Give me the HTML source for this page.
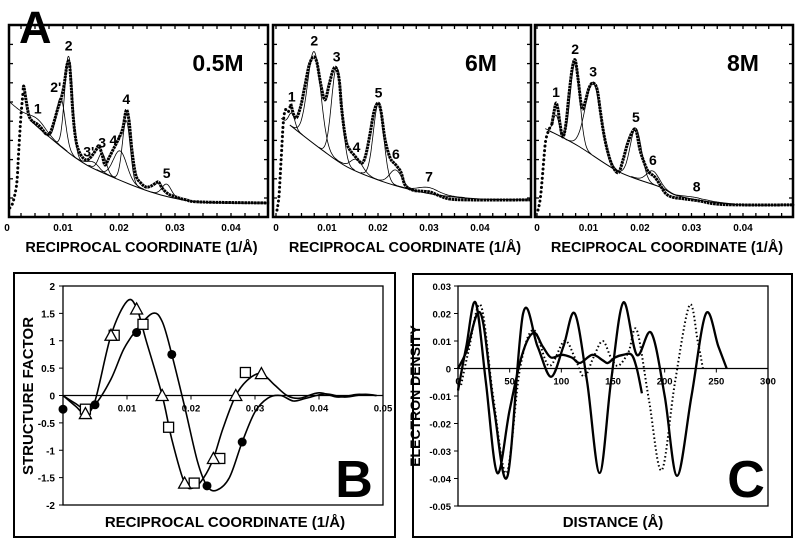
<!DOCTYPE html>
<html><head><meta charset="utf-8">
<style>
html,body{margin:0;padding:0;background:#fff;}
svg{display:block;font-family:"Liberation Sans",Arial,sans-serif;font-weight:bold;}
</style></head>
<body>
<svg id="fig" width="800" height="540" viewBox="0 0 800 540" xmlns="http://www.w3.org/2000/svg">
<rect width="800" height="540" fill="#fff"/>
</svg>
<script>
// ---------- Panel A data (q in units of 0.001 1/Å, intensity in arbitrary 0-100) ----------
const a1Q=[0.5,0.9,1.4,1.8,2.1,2.5,2.9,3.0,3.4,3.9,4.5,5.4,6.1,7.0,7.7,8.4,9.1,9.6,10.2,10.7,11.1,11.4,11.8,12.3,12.9,13.6,14.3,15.0,15.9,16.4,17.0,17.5,18.2,19.1,20.0,20.7,21.3,21.8,22.3,23.0,23.9,24.8,25.7,26.6,27.1,27.7,28.8,30.2,32,34.6,46.8];
const a1I=[4.7,6.3,11.5,19.3,34.9,53,66,68,61,53,50,48.4,46.4,43.2,43.8,49.5,56.8,61,68.8,79,80.7,71.4,53,40,33.9,30.7,29.7,31.3,34.9,37,32.3,27.1,30.7,36,41.1,46.4,55.7,50,34.9,21.9,17.7,15.6,16.1,17.7,18.2,15.1,12,10.4,8.9,7.8,7.3];
const a1BgQ=[4.3,7,12.3,16.8,25.7,32.8,40,46.8];
const a1BgI=[50,43,30.7,23.4,13,8.3,7.3,7.3];
const a1PeakLabels=["1","2'","2","3'","3","4'","4","5"];
const a1PeakC=[5.5,9.6,11.0,15.5,17.0,20.2,21.3,28.5];
const a1PeakH=[4,25,50,3,10,15,32,6];
const a1PeakW=[1.5,0.8,0.7,1.0,0.7,1.2,0.7,0.8];

const a2Q=[0.2,0.6,1.0,1.4,1.8,2.4,2.9,3.5,4.1,4.9,5.7,6.5,7.3,8.0,8.8,9.6,10.4,11.2,11.8,12.4,12.9,13.7,14.5,15.3,16.1,16.9,17.6,18.4,19.2,20.0,20.6,21.4,22.4,23.5,24.5,25.3,26.7,28.2,30.2,32.2,34.1,38,50];
const a2I=[3.6,11.5,29.7,47.9,55.7,54.7,59,53,52,58.3,68.8,79,83.3,80.7,68.8,61,68.8,76.6,77.6,71.4,55.7,40.1,34.9,32.3,29.7,28.1,32.3,42.7,54.7,59.4,54.7,40.1,30.7,27.1,23.4,16.7,14.1,13.5,13,10.9,9.4,8.9,8.9];
const a2BgQ=[2.7,9,14,20,26,32,40,50];
const a2BgI=[47.9,35,26,19.3,14.5,11.3,9.4,8.9];
const a2PeakLabels=["1","2","3","4","5","6","7"];
const a2PeakC=[3.1,7.5,11.9,15.8,20.1,23.5,30];
const a2PeakH=[7,48,48,6,40,8,3];
const a2PeakW=[0.6,1.3,1.0,1.2,1.0,1.2,2];

const a3Q=[0.2,0.6,1.0,1.4,1.7,2.3,2.9,3.3,3.7,4.1,4.5,5.0,5.6,6.2,6.8,7.4,8.0,8.7,9.3,10.1,10.9,11.7,12.4,13.2,14.2,15.1,15.9,16.7,17.5,18.4,19.2,20.0,21.0,21.7,22.9,23.9,24.9,26.2,28.7,31.7,34.6,39.4,49.7];
const a3I=[3.6,8.9,19.3,32.3,40.1,45.3,48.4,54.7,59.4,55.7,47.9,41.7,47.9,63.5,76.6,81.8,71.4,56.8,59.4,67.2,69.8,66.1,53.1,40.1,29.7,24.5,23.4,29.7,37.5,43.8,45.3,34.9,27.1,23.4,20.8,16.7,12.5,10.4,9.4,8.3,6.8,6.3,6.3];
const a3BgQ=[2.1,8,16,23.9,26.8,32,40,50];
const a3BgI=[45.3,37,23.4,15.6,11.5,8.5,6.3,6.3];
const a3PeakLabels=["1","2","3","5","6","8"];
const a3PeakC=[3.7,7.4,10.9,19.2,22.5,31];
const a3PeakH=[10,43,38,26,7,1];
const a3PeakW=[0.6,0.9,1.5,1.1,1.2,2];

const aTickLabels=["0","0.01","0.02","0.03","0.04"];
const aTickVals=[0,10,20,30,40];
const aConc=["0.5M","6M","8M"];

// ---------- Panel B data ----------
const bTriX=[0,0.002,0.0035,0.005,0.0075,0.010,0.0115,0.013,0.0155,0.017,0.019,0.0205,0.022,0.0235,0.025,0.027,0.029,0.031,0.033,0.035,0.037,0.040,0.043,0.046,0.049];
const bTriY=[0,-0.2,-0.33,-0.1,1.1,1.72,1.6,1.0,0,-0.8,-1.6,-1.68,-1.5,-1.15,-0.6,0,0.3,0.4,0.2,0,-0.05,0.05,-0.03,0.02,0];
const bCirX=[0,0.002,0.0035,0.005,0.0075,0.0095,0.0115,0.014,0.0155,0.017,0.019,0.021,0.0225,0.024,0.026,0.028,0.030,0.032,0.034,0.036,0.038,0.041,0.044,0.047,0.049];
const bCirY=[0,-0.15,-0.25,-0.17,0.3,0.85,1.2,1.5,1.35,0.75,-0.2,-1.2,-1.65,-1.73,-1.5,-0.85,-0.3,-0.05,0,-0.1,-0.05,0.03,-0.03,0.02,0];
const bTriMX=[0.0035,0.0075,0.0115,0.0155,0.019,0.0235,0.027,0.031];
const bTriMY=[-0.33,1.1,1.58,0,-1.6,-1.15,0,0.4];
const bSqMX=[0.0035,0.008,0.0125,0.0165,0.0205,0.0245,0.0285];
const bSqMY=[-0.25,1.1,1.3,-0.58,-1.6,-1.15,0.42];
const bCirMX=[0,0.005,0.0115,0.017,0.0225,0.028];
const bCirMY=[-0.25,-0.17,1.15,0.75,-1.65,-0.85];
const bYTicks=[2,1.5,1,0.5,0,-0.5,-1,-1.5,-2];
const bXTicks=[0.01,0.02,0.03,0.04,0.05];

// ---------- Panel C data ----------
const cLongX=[0,8,22,35,48,63,77,90,102,113,125,137,148,160,173,187,200,212,226,240,252,260];
const cLongY=[0,0.006,0.02,-0.015,-0.039,0.02,0.008,-0.003,0.008,0.02,-0.005,-0.038,-0.005,0.024,0.005,0.013,-0.01,-0.039,-0.01,0.02,0.008,0];
const cShortX=[0,8,17,27,38,50,62,73,82,90,100,110,118,130,140,145,152,160,168,173,178];
const cShortY=[-0.008,0.008,0.024,-0.005,-0.038,-0.015,0.005,0.013,0.008,0.004,0.005,0.004,0.002,0.005,0.003,0.002,0.004,0.005,0.005,0.0,-0.009];
const cDotX=[3,10,22,34,47,60,73,88,103,113,122,131,140,148,155,165,173,185,197,210,224,232,237];
const cDotY=[-0.006,0.006,0.023,-0.01,-0.038,0.0,0.014,0.001,0.01,0.004,-0.003,0.004,0.01,0.004,0.001,0.006,0.014,-0.012,-0.037,-0.005,0.023,0.01,0];
const cYTicks=[0.03,0.02,0.01,0,-0.01,-0.02,-0.03,-0.04,-0.05];
const cXTicks=[0,50,100,150,200,250,300];

// ---------- helpers ----------
const svg=document.getElementById('fig');
const NS='http://www.w3.org/2000/svg';
function mk(tag,attrs,parent){const e=document.createElementNS(NS,tag);for(const k in attrs)e.setAttribute(k,attrs[k]);(parent||svg).appendChild(e);return e;}
function txt(s,attrs,parent){const e=mk('text',attrs,parent);e.textContent=s;return e;}
function smooth(pts){
  let d='M'+pts[0][0].toFixed(1)+','+pts[0][1].toFixed(1);
  for(let i=0;i<pts.length-1;i++){
    const p0=pts[i-1]||pts[i],p1=pts[i],p2=pts[i+1],p3=pts[i+2]||p2;
    const c1=[p1[0]+(p2[0]-p0[0])/6,p1[1]+(p2[1]-p0[1])/6];
    const c2=[p2[0]-(p3[0]-p1[0])/6,p2[1]-(p3[1]-p1[1])/6];
    d+='C'+c1[0].toFixed(1)+','+c1[1].toFixed(1)+' '+c2[0].toFixed(1)+','+c2[1].toFixed(1)+' '+p2[0].toFixed(1)+','+p2[1].toFixed(1);
  }
  return d;
}
function interp(xs,ys,x){
  if(x<=xs[0])return ys[0]+(ys[1]-ys[0])*(x-xs[0])/(xs[1]-xs[0]);
  for(let i=0;i<xs.length-1;i++){if(x<=xs[i+1]){return ys[i]+(ys[i+1]-ys[i])*(x-xs[i])/(xs[i+1]-xs[i]);}}
  return ys[ys.length-1];
}

// ---------- Panel A ----------
const panels=[
 {left:9,right:268,origin:7,scale:5.6,Q:a1Q,I:a1I,bq:a1BgQ,bi:a1BgI,pl:a1PeakLabels,pc:a1PeakC,ph:a1PeakH,pw:a1PeakW},
 {left:273,right:531,origin:276,scale:5.1,Q:a2Q,I:a2I,bq:a2BgQ,bi:a2BgI,pl:a2PeakLabels,pc:a2PeakC,ph:a2PeakH,pw:a2PeakW},
 {left:535,right:793,origin:537,scale:5.15,Q:a3Q,I:a3I,bq:a3BgQ,bi:a3BgI,pl:a3PeakLabels,pc:a3PeakC,ph:a3PeakH,pw:a3PeakW}
];
const aTop=25,aBot=217;
function yA(v){return aBot-v*1.92;}
panels.forEach((p,idx)=>{
  const g=mk('g',{});
  
  
  const xA=v=>p.origin+v*p.scale;
  const fr=mk('rect',{x:p.left,y:aTop,width:p.right-p.left,height:aBot-aTop,fill:'none',stroke:'#000','stroke-width':2.5},g);
  
  
  for(let v=0;xA(v)<p.right-2;v+=2.5){const x=xA(v);if(x<p.left+2)continue;
    mk('line',{x1:x,y1:aTop,x2:x,y2:aTop+4,stroke:'#000','stroke-width':1.3},g);
    mk('line',{x1:x,y1:aBot,x2:x,y2:aBot-4,stroke:'#000','stroke-width':1.3},g);}
  for(let y=aBot-19;y>aTop+4;y-=19.2){
    mk('line',{x1:p.left,y1:y,x2:p.left+4,y2:y,stroke:'#000','stroke-width':1.3},g);
    mk('line',{x1:p.right,y1:y,x2:p.right-4,y2:y,stroke:'#000','stroke-width':1.3},g);}
  aTickVals.forEach((v,i)=>{const t=txt(aTickLabels[i],{x:xA(v),y:231,'font-size':10,'text-anchor':'middle'},g);
    
    });
  const at=txt('RECIPROCAL COORDINATE (1/Å)',{x:(p.left+p.right)/2+3,y:252,'font-size':14.5,'text-anchor':'middle'},g);
  
  
  const ct=txt(aConc[idx],{x:p.right-50,y:71,'font-size':23,'text-anchor':'middle'},g);
  
  
  const bgPts=p.bq.map((q,i)=>[xA(q),yA(p.bi[i])]);
  const bg=mk('path',{d:smooth(bgPts),fill:'none',stroke:'#000','stroke-width':1},g);
  
  
  p.pc.forEach((c,i)=>{
    const pts=[];
    for(let k=-3.5;k<=3.5;k+=0.25){const q=c+k*p.pw[i];pts.push([xA(q),yA(interp(p.bq,p.bi,q)+p.ph[i]*Math.exp(-k*k/2))]);}
    const pk=mk('path',{d:smooth(pts),fill:'none',stroke:'#000','stroke-width':0.8},g);
    
    
    const primed=p.pl[i].length>1;
    const top=primed?interp(p.bq,p.bi,c)+p.ph[i]:Math.max(interp(p.Q,p.I,c),interp(p.bq,p.bi,c)+p.ph[i]);
    const lb=txt(p.pl[i],{x:xA(c)+(primed?-5:0),y:yA(top)-6,'font-size':14,'text-anchor':'middle'},g);
    
    
  });
  const pts=p.Q.map((q,i)=>[xA(q),yA(p.I[i])]);
  const riseN=p.Q.findIndex(q=>q>=2.9);
  const rise=mk('path',{d:smooth(pts.slice(0,riseN+1)),fill:'none',stroke:'#000','stroke-width':3,'stroke-linecap':'round','stroke-dasharray':'0.1 4.5'},g);
  
  
  const main=mk('path',{d:smooth(pts.slice(riseN)),fill:'none',stroke:'#000','stroke-width':3,'stroke-dasharray':'2.6 0.6'},g);
  
  
});
const bigA=txt('A',{x:19,y:43,'font-size':45,'font-weight':'900'});



// ---------- Panel B ----------
const xB=v=>63+v*6400, yB=v=>395.5-v*54.75;
const gB=mk('g',{});


const bo=mk('rect',{x:14,y:273,width:381,height:264,fill:'none',stroke:'#000','stroke-width':2},gB);


const bp=mk('rect',{x:63,y:286,width:320,height:219,fill:'none',stroke:'#000','stroke-width':1.3},gB);


mk('line',{x1:63,y1:yB(0),x2:383,y2:yB(0),stroke:'#000','stroke-width':1.3},gB);
bYTicks.forEach(v=>{const t=txt(String(v),{x:55,y:yB(v)+4,'font-size':10,'text-anchor':'end'},gB);
  
  
  mk('line',{x1:59,y1:yB(v),x2:63,y2:yB(v),stroke:'#000','stroke-width':1},gB);});
bXTicks.forEach(v=>{const t=txt(String(v),{x:xB(v),y:yB(0)+16,'font-size':9.5,'text-anchor':'middle'},gB);
  
  
  mk('line',{x1:xB(v),y1:yB(0),x2:xB(v),y2:yB(0)+4,stroke:'#000','stroke-width':1},gB);});
const bt1=mk('path',{d:smooth(bTriX.map((x,i)=>[xB(x),yB(bTriY[i])])),fill:'none',stroke:'#000','stroke-width':1.6},gB);


const bt2=mk('path',{d:smooth(bCirX.map((x,i)=>[xB(x),yB(bCirY[i])])),fill:'none',stroke:'#000','stroke-width':1.6},gB);


bSqMX.forEach((x,i)=>{const r=mk('rect',{x:xB(x)-5,y:yB(bSqMY[i])-5,width:10,height:10,fill:'#fff',stroke:'#000','stroke-width':1.3},gB);
  
  });
bTriMX.forEach((x,i)=>{const cx=xB(x),cy=yB(bTriMY[i]);
  const t=mk('polygon',{points:`${cx},${cy-6} ${cx+6},${cy+5} ${cx-6},${cy+5}`,fill:'#fff',stroke:'#000','stroke-width':1.3},gB);
  
  });
bCirMX.forEach((x,i)=>{const c=mk('circle',{cx:xB(x),cy:yB(bCirMY[i]),r:4.5,fill:'#000'},gB);
  
  });
const bxT=txt('RECIPROCAL COORDINATE (1/Å)',{x:225,y:527,'font-size':15,'text-anchor':'middle'},gB);


const byT=txt('STRUCTURE FACTOR',{x:0,y:0,'font-size':15,'text-anchor':'middle',transform:'translate(33,396) rotate(-90)'},gB);


const bigB=txt('B',{x:354,y:497,'font-size':52,'font-weight':'900','text-anchor':'middle'},gB);



// ---------- Panel C ----------
const xC=v=>458+v*1.0333, yC=v=>368.5-v*2750;
const gC=mk('g',{});


const co=mk('rect',{x:413,y:274,width:379,height:263,fill:'none',stroke:'#000','stroke-width':2},gC);


const cp=mk('rect',{x:458,y:286,width:310,height:220,fill:'none',stroke:'#000','stroke-width':1.3},gC);


mk('line',{x1:458,y1:yC(0),x2:768,y2:yC(0),stroke:'#000','stroke-width':1.3},gC);
cYTicks.forEach(v=>{const t=txt(v===0?'0':v.toFixed(2),{x:451,y:yC(v)+4,'font-size':9.5,'text-anchor':'end'},gC);
  
  
  mk('line',{x1:454,y1:yC(v),x2:458,y2:yC(v),stroke:'#000','stroke-width':1},gC);});
cXTicks.forEach(v=>{const t=txt(String(v),{x:xC(v),y:yC(0)+16,'font-size':9.5,'text-anchor':'middle'},gC);
  
  
  mk('line',{x1:xC(v),y1:yC(0),x2:xC(v),y2:yC(0)+4,stroke:'#000','stroke-width':1},gC);});
const cl=mk('path',{d:smooth(cLongX.map((x,i)=>[xC(x),yC(cLongY[i])])),fill:'none',stroke:'#000','stroke-width':2.3},gC);


const cs=mk('path',{d:smooth(cShortX.map((x,i)=>[xC(x),yC(cShortY[i])])),fill:'none',stroke:'#000','stroke-width':2.3},gC);


const cd=mk('path',{d:smooth(cDotX.map((x,i)=>[xC(x),yC(cDotY[i])])),fill:'none',stroke:'#000','stroke-width':2,'stroke-dasharray':'1.5 2.5'},gC);


const cxT=txt('DISTANCE (Å)',{x:613,y:527,'font-size':15,'text-anchor':'middle'},gC);


const cyT=txt('ELECTRON DENSITY',{x:0,y:0,'font-size':14,'text-anchor':'middle',transform:'translate(420,396) rotate(-90)'},gC);


const bigC=txt('C',{x:746,y:497,'font-size':52,'font-weight':'900','text-anchor':'middle'},gC);


</script>
</body></html>
